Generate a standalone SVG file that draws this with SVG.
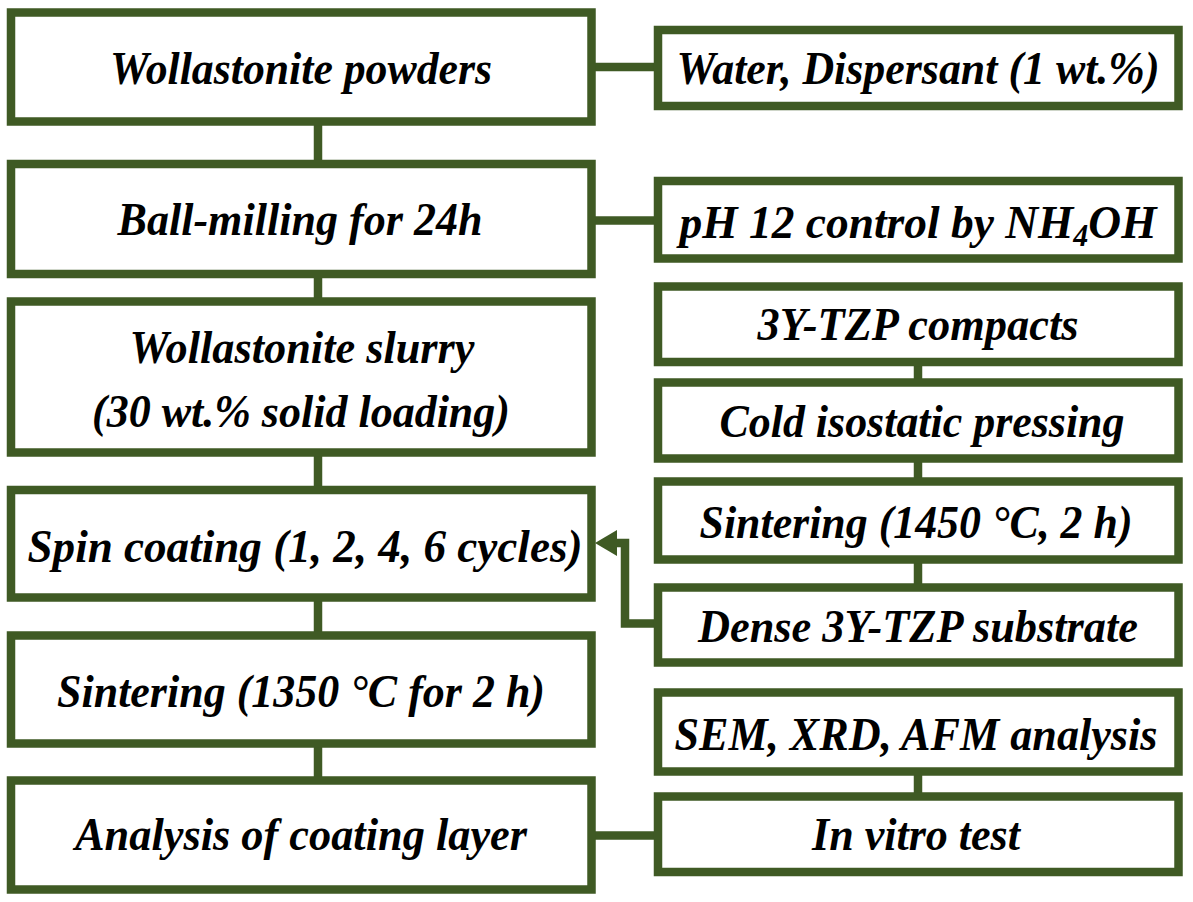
<svg xmlns="http://www.w3.org/2000/svg" width="1193" height="902" viewBox="0 0 1193 902">
  <style>
    .box { fill: #ffffff; stroke: #3f5a24; stroke-width: 8.5; }
    .con { fill: none; stroke: #3f5a24; stroke-width: 8.5; stroke-linejoin: miter; }
    .t { font-family: "Liberation Serif", "Times New Roman", serif; font-weight: bold; font-style: italic; font-size: 47px; fill: #000000; text-anchor: middle; }
  </style>
  <defs>
    <marker id="ah" markerUnits="userSpaceOnUse" viewBox="0 0 22 26" markerWidth="22" markerHeight="26" refX="0" refY="13" orient="auto">
      <path d="M0,0 L22,13 L0,26 Z" fill="#3f5a24"/>
    </marker>
  </defs>
  <rect width="1193" height="902" fill="#ffffff"/>

  <g id="connectors">
    <line class="con" x1="318" y1="121.5" x2="318" y2="164"/>
    <line class="con" x1="318" y1="274" x2="318" y2="301.5"/>
    <line class="con" x1="318" y1="452.5" x2="318" y2="490"/>
    <line class="con" x1="318" y1="597.5" x2="318" y2="635.5"/>
    <line class="con" x1="318" y1="743.5" x2="318" y2="780.5"/>
    <line class="con" x1="918" y1="362" x2="918" y2="382.5"/>
    <line class="con" x1="918" y1="458.5" x2="918" y2="481.5"/>
    <line class="con" x1="918" y1="559.5" x2="918" y2="587.5"/>
    <line class="con" x1="918" y1="771.5" x2="918" y2="796.5"/>
    <line class="con" x1="591.5" y1="67" x2="658" y2="67"/>
    <line class="con" x1="591.5" y1="220.5" x2="658" y2="220.5"/>
    <line class="con" x1="591.5" y1="835.5" x2="658" y2="835.5"/>
    <path class="con" d="M658 623.5 H625 V543 H617" marker-end="url(#ah)"/>
  </g>

  <g id="wollastonite-powders">
    <rect class="box" x="11" y="12.5" width="580.5" height="109"/>
    <text class="t" x="301" y="84" textLength="382" lengthAdjust="spacingAndGlyphs">Wollastonite powders</text>
  </g>
  <g id="ball-milling">
    <rect class="box" x="11" y="164" width="580.5" height="110"/>
    <text class="t" x="300" y="235" textLength="365" lengthAdjust="spacingAndGlyphs">Ball-milling for 24h</text>
  </g>
  <g id="wollastonite-slurry">
    <rect class="box" x="11" y="301.5" width="580.5" height="151"/>
    <text class="t" x="302" y="363" textLength="345" lengthAdjust="spacingAndGlyphs">Wollastonite slurry</text>
    <text class="t" x="301" y="427" textLength="418" lengthAdjust="spacingAndGlyphs">(30 wt.% solid loading)</text>
  </g>
  <g id="spin-coating">
    <rect class="box" x="11" y="490" width="580.5" height="107.5"/>
    <text class="t" x="305" y="562" textLength="555" lengthAdjust="spacingAndGlyphs">Spin coating (1, 2, 4, 6 cycles)</text>
  </g>
  <g id="sintering-1350">
    <rect class="box" x="11" y="635.5" width="580.5" height="108"/>
    <text class="t" x="301" y="707" textLength="488" lengthAdjust="spacingAndGlyphs">Sintering (1350 °C for 2 h)</text>
  </g>
  <g id="analysis-coating">
    <rect class="box" x="11" y="780.5" width="580.5" height="109"/>
    <text class="t" x="301" y="850" textLength="452" lengthAdjust="spacingAndGlyphs">Analysis of coating layer</text>
  </g>

  <g id="water-dispersant">
    <rect class="box" x="658" y="30" width="520.5" height="76"/>
    <text class="t" x="918" y="84" textLength="483" lengthAdjust="spacingAndGlyphs">Water, Dispersant (1 wt.%)</text>
  </g>
  <g id="ph-control">
    <rect class="box" x="658" y="181" width="520.5" height="77.5"/>
    <text class="t" x="918" y="238" textLength="477" lengthAdjust="spacingAndGlyphs">pH 12 control by NH<tspan font-size="31" dy="8">4</tspan><tspan dy="-8">OH</tspan></text>
  </g>
  <g id="tzp-compacts">
    <rect class="box" x="658" y="286.5" width="520.5" height="75.5"/>
    <text class="t" x="918" y="340" textLength="321" lengthAdjust="spacingAndGlyphs">3Y-TZP compacts</text>
  </g>
  <g id="cold-isostatic">
    <rect class="box" x="658" y="382.5" width="520.5" height="76"/>
    <text class="t" x="922" y="437" textLength="405" lengthAdjust="spacingAndGlyphs">Cold isostatic pressing</text>
  </g>
  <g id="sintering-1450">
    <rect class="box" x="658" y="481.5" width="520.5" height="78"/>
    <text class="t" x="916" y="538" textLength="433" lengthAdjust="spacingAndGlyphs">Sintering (1450 °C, 2 h)</text>
  </g>
  <g id="dense-substrate">
    <rect class="box" x="658" y="587.5" width="520.5" height="75"/>
    <text class="t" x="918" y="642" textLength="440" lengthAdjust="spacingAndGlyphs">Dense 3Y-TZP substrate</text>
  </g>
  <g id="sem-xrd-afm">
    <rect class="box" x="658" y="692.5" width="520.5" height="79"/>
    <text class="t" x="916" y="750" textLength="483" lengthAdjust="spacingAndGlyphs">SEM, XRD, AFM analysis</text>
  </g>
  <g id="in-vitro">
    <rect class="box" x="658" y="796.5" width="520.5" height="75.5"/>
    <text class="t" x="916" y="850" textLength="208" lengthAdjust="spacingAndGlyphs">In vitro test</text>
  </g>
</svg>
